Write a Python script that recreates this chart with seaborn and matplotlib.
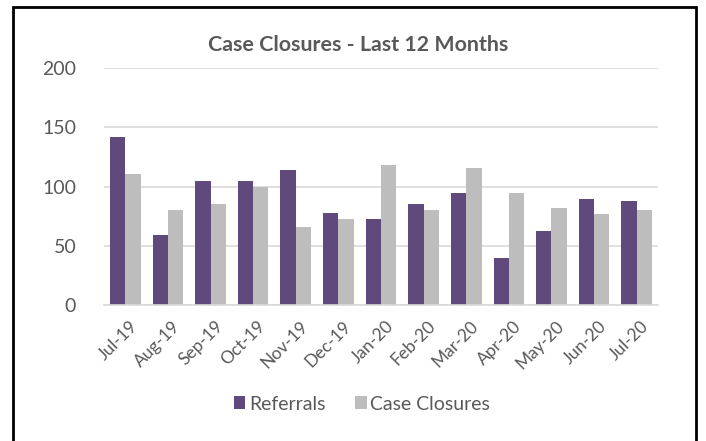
import matplotlib
matplotlib.use("Agg")
import matplotlib.pyplot as plt
import matplotlib.transforms as mtrans
import seaborn as sns
import pandas as pd
from matplotlib.patches import Rectangle, Patch

months = ["Jul-19", "Aug-19", "Sep-19", "Oct-19", "Nov-19", "Dec-19", "Jan-20",
          "Feb-20", "Mar-20", "Apr-20", "May-20", "Jun-20", "Jul-20"]
referrals = [142, 59, 105, 105, 114, 78, 73, 85, 95, 40, 63, 90, 88]
case_closures = [111, 80, 85, 100, 66, 73, 118, 80, 116, 95, 82, 77, 80]
series_names = ["Referrals", "Case Closures"]
colors = ["#604A7B", "#BDBDBD"]

df = pd.DataFrame({
    "Month": months * 2,
    "Value": referrals + case_closures,
    "Series": [series_names[0]] * len(months) + [series_names[1]] * len(months),
})

sns.set_theme(style="white")
plt.rcParams["font.family"] = ["Lato", "DejaVu Sans"]

fig = plt.figure(figsize=(7.06, 4.41), dpi=100)
ax = fig.add_axes([104 / 706, 1 - 305.3 / 441, (658 - 104) / 706, (305.3 - 68) / 441])

sns.barplot(data=df, x="Month", y="Value", hue="Series", order=months,
            hue_order=series_names, palette=colors, width=0.72, gap=0,
            saturation=1, legend=False, ax=ax, linewidth=0)

ax.set_ylim(0, 200)
ax.set_xlim(-0.5, len(months) - 0.5)
ax.set_yticks([0, 50, 100, 150, 200])
ax.yaxis.grid(True, color="#D9D9D9", linewidth=1.2)
ax.set_axisbelow(True)
for s in ["top", "right", "left"]:
    ax.spines[s].set_visible(False)
ax.spines["bottom"].set_color("#D9D9D9")
ax.spines["bottom"].set_linewidth(1.2)
ax.set_xlabel("")
ax.set_ylabel("")
ax.tick_params(axis="y", labelsize=14, labelcolor="#595959", length=0, pad=20)
ax.tick_params(axis="x", labelsize=12.5, labelcolor="#595959", length=0, pad=9)
offset = mtrans.ScaledTranslation(4 / 100, 0, fig.dpi_scale_trans)
for lbl in ax.get_xticklabels():
    lbl.set_rotation(45)
    lbl.set_ha("right")
    lbl.set_va("top")
    lbl.set_rotation_mode("anchor")
    lbl.set_transform(lbl.get_transform() + offset)

fig.text(358 / 706, 1 - 45 / 441, "Case Closures - Last 12 Months",
         ha="center", va="center", fontsize=15.4, fontweight="bold", color="#595959")

handles = [Patch(facecolor=c, edgecolor="none") for c in colors]
fig.legend(handles, series_names, loc="center", bbox_to_anchor=(362 / 706, 1 - 404 / 441),
           ncol=2, frameon=False, fontsize=14, labelcolor="#595959",
           handlelength=0.6, handleheight=0.6, handletextpad=0.2, columnspacing=1.5)

border = Rectangle((12.5 / 706, -0.05), (696 - 12.5) / 706, 1.05 - 7.5 / 441,
                   transform=fig.transFigure, fill=False, edgecolor="black",
                   linewidth=2, clip_on=False)
fig.add_artist(border)

fig.savefig("out.png", dpi=100)
